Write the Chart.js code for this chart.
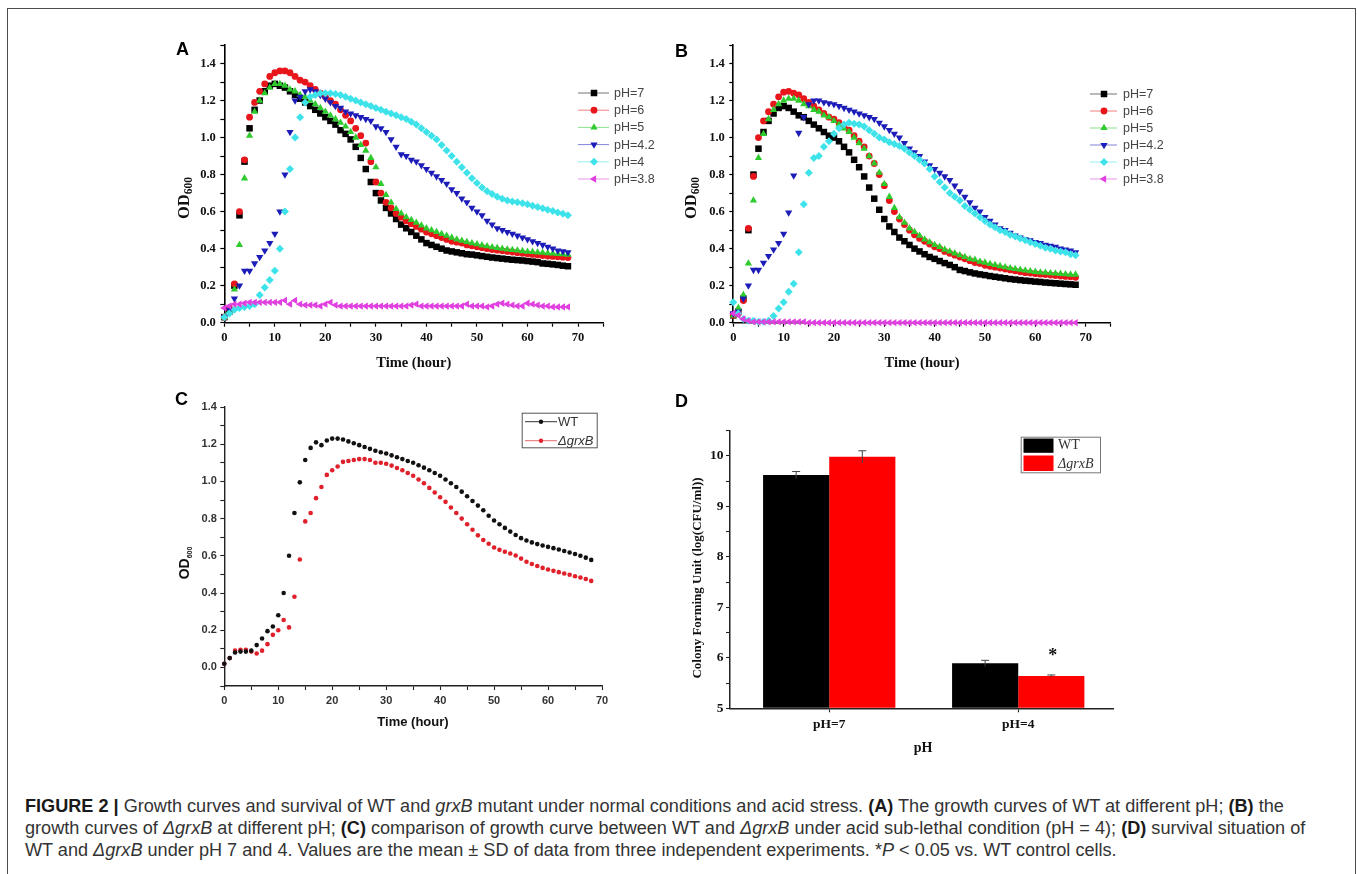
<!DOCTYPE html>
<html><head><meta charset="utf-8">
<script src="https://cdn.jsdelivr.net/npm/chart.js@4.4.1/dist/chart.umd.min.js"></script>
<style>
html,body{margin:0;padding:0;background:#fff;width:1357px;height:874px;overflow:hidden;position:relative}
canvas{position:absolute}
.frame{position:absolute;left:7px;top:8px;width:1347px;height:900px;border:1px solid #4d4d4d;border-bottom:none}
.lbl{position:absolute;font:bold 18px "Liberation Sans",Arial,sans-serif;color:#000;line-height:1}
.cap{position:absolute;left:25px;white-space:nowrap;font-family:"Liberation Sans",Arial,sans-serif;color:#333;line-height:1}
.cap b{color:#1a1a1a}
</style></head><body>
<div class="frame"></div>
<canvas id="cA"></canvas><canvas id="cB"></canvas><canvas id="cC"></canvas><canvas id="cD"></canvas>
<div class="lbl" style="left:176px;top:40px">A</div>
<div class="lbl" style="left:675px;top:42px">B</div>
<div class="lbl" style="left:175px;top:390px">C</div>
<div class="lbl" style="left:675px;top:392px">D</div>
<div class="cap" id="cap1"><b>FIGURE 2 |</b> Growth curves and survival of WT and <i>grxB</i> mutant under normal conditions and acid stress. <b>(A)</b> The growth curves of WT at different pH; <b>(B)</b> the</div>
<div class="cap" id="cap2">growth curves of <i>ΔgrxB</i> at different pH; <b>(C)</b> comparison of growth curve between WT and <i>ΔgrxB</i> under acid sub-lethal condition (pH = 4); <b>(D)</b> survival situation of</div>
<div class="cap" id="cap3">WT and <i>ΔgrxB</i> under pH 7 and 4. Values are the mean ± SD of data from three independent experiments. *<i>P</i> &lt; 0.05 vs. WT control cells.</div>
<script>
// ---------------- DATA ----------------
const hours = [0,1,2,3,4,5,6,7,8,9,10,11,12,13,14,15,16,17,18,19,20,21,22,23,24,25,26,27,28,29,30,31,32,33,34,35,36,37,38,39,40,41,42,43,44,45,46,47,48,49,50,51,52,53,54,55,56,57,58,59,60,61,62,63,64,65,66,67,68];
const phLabels = ['pH=7','pH=6','pH=5','pH=4.2','pH=4','pH=3.8'];

// Panel A: WT at different pH (OD600)
const A_pH7 = [0.03,0.06,0.2,0.58,0.87,1.05,1.15,1.2,1.25,1.28,
1.29,1.28,1.27,1.25,1.23,1.21,1.19,1.17,1.15,1.13,
1.11,1.09,1.07,1.04,1.02,0.99,0.95,0.89,0.83,0.76,
0.7,0.66,0.62,0.59,0.56,0.53,0.51,0.49,0.47,0.45,
0.43,0.42,0.41,0.4,0.39,0.385,0.38,0.375,0.37,0.368,
0.364,0.36,0.356,0.352,0.349,0.346,0.343,0.34,0.338,0.336,
0.333,0.33,0.327,0.32,0.318,0.315,0.312,0.308,0.305];
const A_pH6 = [0.03,0.08,0.21,0.6,0.88,1.11,1.19,1.25,1.29,1.33,
1.35,1.36,1.36,1.35,1.33,1.31,1.3,1.28,1.26,1.24,
1.22,1.2,1.18,1.15,1.12,1.09,1.05,1.01,0.97,0.87,
0.76,0.7,0.65,0.62,0.59,0.57,0.55,0.535,0.52,0.505,
0.49,0.48,0.47,0.46,0.45,0.44,0.435,0.43,0.42,0.415,
0.41,0.405,0.4,0.395,0.392,0.388,0.385,0.382,0.378,0.375,
0.372,0.369,0.366,0.363,0.36,0.358,0.356,0.354,0.352];
const A_pH5 = [0.03,0.06,0.18,0.42,0.78,1.01,1.14,1.2,1.24,1.27,
1.29,1.29,1.28,1.26,1.25,1.23,1.22,1.2,1.18,1.16,
1.14,1.12,1.1,1.08,1.06,1.03,1.0,0.96,0.93,0.89,
0.84,0.75,0.69,0.65,0.615,0.59,0.57,0.555,0.54,0.525,
0.51,0.5,0.49,0.48,0.47,0.46,0.45,0.443,0.436,0.43,
0.424,0.418,0.413,0.408,0.404,0.4,0.396,0.393,0.39,0.387,
0.384,0.382,0.38,0.378,0.376,0.374,0.372,0.37,0.368];
const A_pH42 = [0.03,0.07,0.13,0.2,0.28,0.28,0.32,0.355,0.39,0.43,
0.48,0.6,0.8,1.03,1.2,1.22,1.25,1.26,1.25,1.23,
1.21,1.19,1.17,1.16,1.14,1.13,1.12,1.11,1.1,1.09,
1.06,1.05,1.03,0.99,0.95,0.91,0.9,0.88,0.87,0.85,
0.83,0.81,0.79,0.77,0.75,0.72,0.7,0.67,0.65,0.62,
0.6,0.58,0.55,0.53,0.51,0.5,0.49,0.48,0.47,0.46,
0.45,0.44,0.43,0.42,0.41,0.4,0.39,0.385,0.38];
const A_pH4 = [0.03,0.05,0.07,0.08,0.085,0.09,0.1,0.15,0.19,0.23,
0.28,0.4,0.6,0.83,1.0,1.11,1.19,1.22,1.23,1.24,
1.24,1.24,1.235,1.23,1.22,1.21,1.2,1.19,1.18,1.17,
1.16,1.15,1.14,1.13,1.12,1.11,1.1,1.085,1.07,1.05,
1.03,1.01,0.99,0.96,0.93,0.9,0.87,0.84,0.81,0.78,
0.755,0.73,0.71,0.695,0.68,0.67,0.66,0.655,0.65,0.645,
0.64,0.632,0.625,0.618,0.61,0.603,0.595,0.588,0.58];
const A_pH38 = [0.08,0.09,0.1,0.1,0.105,0.11,0.11,0.11,0.11,0.11,
0.11,0.11,0.12,0.1,0.12,0.1,0.095,0.095,0.095,0.09,
0.1,0.11,0.095,0.09,0.09,0.09,0.09,0.09,0.09,0.09,
0.09,0.09,0.09,0.09,0.09,0.09,0.09,0.095,0.1,0.09,
0.09,0.09,0.09,0.09,0.09,0.09,0.09,0.09,0.1,0.09,
0.09,0.09,0.085,0.09,0.1,0.105,0.1,0.095,0.09,0.09,
0.105,0.1,0.095,0.09,0.09,0.085,0.085,0.085,0.085];

// Panel B: ΔgrxB at different pH (OD600)
const B_pH7 = [0.04,0.06,0.13,0.5,0.8,0.94,1.03,1.09,1.13,1.16,
1.17,1.16,1.14,1.12,1.11,1.09,1.07,1.05,1.03,1.01,
1.0,0.98,0.95,0.92,0.88,0.84,0.79,0.73,0.67,0.61,
0.56,0.52,0.49,0.46,0.44,0.42,0.4,0.385,0.37,0.355,
0.345,0.333,0.322,0.312,0.3,0.285,0.279,0.272,0.266,0.261,
0.257,0.252,0.248,0.244,0.24,0.236,0.233,0.23,0.227,0.225,
0.222,0.22,0.217,0.215,0.213,0.211,0.209,0.207,0.205];
const B_pH6 = [0.04,0.05,0.12,0.51,0.79,1.0,1.09,1.14,1.18,1.22,
1.245,1.25,1.24,1.23,1.21,1.19,1.17,1.15,1.13,1.11,
1.1,1.08,1.06,1.04,1.01,0.98,0.95,0.9,0.86,0.8,
0.74,0.66,0.6,0.56,0.53,0.5,0.475,0.455,0.44,0.425,
0.41,0.4,0.385,0.375,0.365,0.355,0.345,0.335,0.325,0.32,
0.31,0.305,0.3,0.295,0.29,0.285,0.28,0.275,0.27,0.268,
0.265,0.262,0.26,0.257,0.255,0.252,0.25,0.248,0.245];
const B_pH5 = [0.04,0.08,0.15,0.32,0.66,0.89,1.02,1.1,1.15,1.18,
1.2,1.21,1.21,1.2,1.18,1.17,1.15,1.14,1.12,1.11,
1.09,1.07,1.05,1.03,1.0,0.97,0.94,0.9,0.86,0.81,
0.75,0.68,0.62,0.57,0.54,0.51,0.49,0.47,0.45,0.435,
0.42,0.41,0.395,0.385,0.375,0.365,0.355,0.345,0.34,0.33,
0.325,0.318,0.312,0.306,0.3,0.295,0.29,0.286,0.282,0.278,
0.275,0.272,0.27,0.268,0.266,0.264,0.262,0.26,0.26];
const B_pH42 = [0.05,0.06,0.13,0.2,0.285,0.285,0.323,0.36,0.395,0.43,
0.48,0.595,0.795,1.025,1.11,1.18,1.2,1.2,1.19,1.185,
1.18,1.17,1.16,1.15,1.14,1.13,1.12,1.11,1.1,1.08,
1.06,1.04,1.02,1.0,0.97,0.94,0.92,0.9,0.87,0.85,
0.83,0.81,0.79,0.77,0.74,0.71,0.68,0.65,0.62,0.6,
0.57,0.55,0.53,0.51,0.5,0.485,0.47,0.46,0.45,0.445,
0.436,0.43,0.42,0.415,0.41,0.4,0.395,0.39,0.38];
const B_pH4 = [0.11,0.05,0.02,0.01,0.01,0.005,0.005,0.01,0.036,0.077,
0.11,0.167,0.21,0.38,0.64,0.81,0.89,0.9,0.95,0.98,
1.02,1.05,1.07,1.08,1.075,1.07,1.06,1.04,1.02,1.0,
0.99,0.975,0.965,0.955,0.94,0.92,0.9,0.88,0.86,0.83,
0.79,0.76,0.73,0.7,0.68,0.66,0.63,0.61,0.59,0.57,
0.55,0.53,0.515,0.5,0.49,0.475,0.465,0.455,0.445,0.435,
0.425,0.415,0.405,0.4,0.39,0.385,0.38,0.37,0.365];
const B_pH38 = [0.05,0.04,0.02,0.01,0.005,0.005,0.005,0.005,0.005,0.005,
0.005,0.005,0.005,0.005,0.005,0,0,0,0,0,
0,0,0,0,0,0,0,0,0,0,
0,0,0,0,0,0,0,0,0,0,
0,0,0,0,0,0,0,0,0,0,
0,0,0,0,0,0,0,0,0,0,
0,0,0,0,0,0,0,0,0];

// Panel C: WT vs ΔgrxB at pH 4 (OD600)
const C_WT = [0.02,0.05,0.08,0.085,0.085,0.09,0.12,0.155,0.195,0.22,
0.28,0.4,0.6,0.83,0.995,1.115,1.18,1.21,1.195,1.22,
1.23,1.23,1.225,1.215,1.205,1.195,1.185,1.175,1.165,1.157,
1.15,1.14,1.13,1.12,1.11,1.1,1.087,1.074,1.06,1.045,
1.03,1.01,0.99,0.97,0.945,0.92,0.895,0.87,0.845,0.815,
0.79,0.77,0.75,0.73,0.712,0.695,0.682,0.672,0.663,0.655,
0.648,0.641,0.634,0.626,0.618,0.61,0.6,0.59,0.578];
const C_grxB = [0.02,0.05,0.09,0.095,0.095,0.085,0.075,0.09,0.125,0.175,
0.2,0.255,0.215,0.38,0.58,0.785,0.83,0.91,0.97,1.035,
1.06,1.08,1.105,1.11,1.115,1.12,1.12,1.115,1.1,1.1,
1.095,1.085,1.072,1.06,1.045,1.03,1.01,0.99,0.965,0.94,
0.915,0.89,0.86,0.83,0.8,0.77,0.74,0.71,0.685,0.665,
0.645,0.632,0.622,0.612,0.602,0.585,0.568,0.556,0.545,0.535,
0.526,0.519,0.512,0.505,0.498,0.49,0.483,0.475,0.465];

// Panel D: survival (log CFU/ml)
const D_categories = ['pH=7','pH=4'];
const D_WT = [9.62, 5.89];
const D_WT_sd = [0.07, 0.06];
const D_grxB = [9.98, 5.64];
const D_grxB_sd = [0.12, 0.02];

// ---------------- STYLE ----------------
const SERIF = '"Liberation Serif","Times New Roman",serif';
const SANS = '"Liberation Sans",Arial,sans-serif';
const phColors = ['#000000','#e8151b','#2ecb2e','#1c1cb8','#3ee3ea','#e040e0'];
const phMarkers = [['rect',0,4.6],['circle',0,3.4],['triangle',0,4.2],['triangle',180,4.2],['rectRot',0,4.0],['triangle',270,4.2]];
Chart.defaults.font.family = SERIF;

function pts(ys){ return hours.map((h,i)=>({x:h,y:ys[i]})); }

function marker(ctx, style, rot, r, x, y){
  ctx.beginPath();
  const rad = rot*Math.PI/180;
  if(style==='circle'){ ctx.arc(x,y,r,0,Math.PI*2); }
  else if(style==='rect'){ const s=Math.SQRT1_2*r; ctx.rect(x-s,y-s,2*s,2*s); }
  else if(style==='rectRot'){ ctx.moveTo(x-r,y); ctx.lineTo(x,y-r); ctx.lineTo(x+r,y); ctx.lineTo(x,y+r); ctx.closePath(); }
  else { let a=rad; ctx.moveTo(x+Math.sin(a)*r,y-Math.cos(a)*r); a+=2*Math.PI/3; ctx.lineTo(x+Math.sin(a)*r,y-Math.cos(a)*r); a+=2*Math.PI/3; ctx.lineTo(x+Math.sin(a)*r,y-Math.cos(a)*r); ctx.closePath(); }
  ctx.fill();
}

function rotTitle(ctx, cx, cy, main, sub, font, subFont, subDy){
  ctx.save(); ctx.translate(cx, cy); ctx.rotate(-Math.PI/2);
  ctx.font = font; const w1 = ctx.measureText(main).width;
  let w2 = 0; if(sub){ ctx.font = subFont; w2 = ctx.measureText(sub).width; }
  const x0 = -(w1+w2)/2;
  ctx.textAlign='left'; ctx.textBaseline='alphabetic'; ctx.fillStyle='#111';
  ctx.font = font; ctx.fillText(main, x0, 0);
  if(sub){ ctx.font = subFont; ctx.fillText(sub, x0+w1, subDy); }
  ctx.restore();
}

function setCanvas(id,L,T,W,H){ const c=document.getElementById(id); c.width=W; c.height=H; c.style.left=L+'px'; c.style.top=T+'px'; c.style.width=W+'px'; c.style.height=H+'px'; return c; }

function growth(id, L, T, W, H, area, series, leg, tit){
  const c = setCanvas(id,L,T,W,H);
  const n = series.length;
  const datasets = series.map((ys,i)=>({
    label: phLabels[i], data: pts(ys),
    pointStyle: phMarkers[i][0], pointRotation: phMarkers[i][1], pointRadius: phMarkers[i][2],
    pointBackgroundColor: phColors[i], pointBorderWidth: 0, pointHoverRadius: phMarkers[i][2],
    showLine:false, clip:false, order: n-i
  }));
  const tickFont = {family:SERIF, weight:'bold', size:12.5};
  new Chart(c, {
    type:'scatter', data:{datasets},
    options:{
      responsive:false, animation:false, events:[],
      layout:{padding:{left:0, top:area.top-T, right:L+W-area.right, bottom:0}},
      plugins:{legend:{display:false}, tooltip:{enabled:false}},
      scales:{
        x:{type:'linear', min:0, max:75,
          ticks:{stepSize:5, autoSkip:false, maxRotation:0, padding:4, color:'#111', font:tickFont,
            callback:v=> (Math.round(v)%10===0 && v<=70) ? String(Math.round(v)) : ''},
          grid:{display:true, drawOnChartArea:false, drawTicks:true, tickLength:4, color:'#000', tickWidth:1.2},
          border:{display:true, color:'#000', width:1.6},
          afterFit:s=>{ s.height = T+H-area.bottom; }},
        y:{type:'linear', min:0, max:1.5,
          ticks:{stepSize:0.1, autoSkip:false, padding:4.5, color:'#111', font:tickFont,
            callback:v=>{const k=Math.round(v*10); return (k%2===0 && k<=14) ? (k/10).toFixed(1) : '';}},
          grid:{display:true, drawOnChartArea:false, drawTicks:true, tickLength:4, color:'#000', tickWidth:1.2},
          border:{display:true, color:'#000', width:1.6},
          afterFit:s=>{ s.width = area.left-L; }}
      }
    },
    plugins:[{id:'deco'+id, afterDraw(chart){
      const ctx=chart.ctx; ctx.save();
      // legend
      ctx.font='12.5px '+SANS; ctx.textBaseline='middle'; ctx.textAlign='left';
      phLabels.forEach((lab,i)=>{
        const y=leg.y0+i*leg.dy-T;
        ctx.strokeStyle=phColors[i]; ctx.globalAlpha=0.55; ctx.lineWidth=1;
        ctx.beginPath(); ctx.moveTo(leg.x0-L,y); ctx.lineTo(leg.x1-L,y); ctx.stroke(); ctx.globalAlpha=1;
        ctx.fillStyle=phColors[i]; marker(ctx, phMarkers[i][0], phMarkers[i][1], phMarkers[i][2], leg.xm-L, y);
        ctx.fillStyle='#444'; ctx.fillText(lab, leg.xt-L, y+0.5);
      });
      // axis titles
      ctx.fillStyle='#111'; ctx.font='bold 14.5px '+SERIF; ctx.textAlign='center'; ctx.textBaseline='middle';
      ctx.fillText('Time (hour)', tit.xc-L, tit.xy-T);
      rotTitle(ctx, tit.yx-L, tit.yc-T, 'OD', '600', 'bold 16.5px '+SERIF, 'bold 11.5px '+SERIF, 3);
      ctx.restore();
    }}]
  });
}

growth('cA', 150, 30, 510, 350, {left:224.3, top:45, right:603.3, bottom:322.7},
  [A_pH7,A_pH6,A_pH5,A_pH42,A_pH4,A_pH38],
  {x0:578, x1:609, xm:594, xt:614, y0:93, dy:17.2},
  {xc:413.8, xy:363.3, yx:189, yc:198});
growth('cB', 660, 30, 510, 350, {left:733.3, top:45, right:1110.8, bottom:322.7},
  [B_pH7,B_pH6,B_pH5,B_pH42,B_pH4,B_pH38],
  {x0:1090, x1:1117, xm:1104, xt:1123, y0:94, dy:17},
  {xc:922, xy:363.3, yx:696, yc:198});

// Panel C
(function(){
  const L=150,T=395,W=480,H=355; const area={left:224.3, top:407, right:602, bottom:686};
  const c=setCanvas('cC',L,T,W,H);
  const tickFont={family:SANS, weight:'bold', size:11};
  const gridCfg={display:true, drawOnChartArea:false, drawTicks:true, tickLength:4, color:'#222', tickWidth:1.1};
  new Chart(c,{
    type:'scatter',
    data:{datasets:[
      {label:'WT', data:pts(C_WT), pointRadius:2.3, pointBackgroundColor:'#111', pointBorderWidth:0, showLine:false, clip:false},
      {label:'ΔgrxB', data:pts(C_grxB), pointRadius:2.3, pointBackgroundColor:'#e0202a', pointBorderWidth:0, showLine:false, clip:false}
    ]},
    options:{
      responsive:false, animation:false, events:[],
      layout:{padding:{left:0, top:area.top-T, right:L+W-area.right, bottom:0}},
      plugins:{legend:{display:false}, tooltip:{enabled:false}},
      scales:{
        x:{type:'linear', min:0, max:70,
          ticks:{stepSize:5, autoSkip:false, maxRotation:0, padding:4, color:'#333', font:tickFont,
            callback:v=> (Math.round(v)%10===0) ? String(Math.round(v)) : ''},
          grid:gridCfg, border:{display:true, color:'#222', width:1.4},
          afterFit:s=>{ s.height=T+H-area.bottom; }},
        y:{type:'linear', min:-0.1, max:1.4,
          ticks:{stepSize:0.1, autoSkip:false, padding:3.5, color:'#333', font:tickFont,
            callback:v=>{const k=Math.round(v*10); return (k%2===0 && k>=0) ? (k/10).toFixed(1) : '';}},
          grid:gridCfg, border:{display:true, color:'#222', width:1.4},
          afterFit:s=>{ s.width=area.left-L; }}
      }
    },
    plugins:[{id:'decoC', afterDraw(chart){
      const ctx=chart.ctx; ctx.save();
      // legend box
      ctx.strokeStyle='#555'; ctx.lineWidth=1; ctx.strokeRect(521.7-L+0.5, 412.7-T+0.5, 75, 34.6);
      const rows=[{y:421.7,c:'#111',lc:'#333',t:'WT',it:false},{y:440.7,c:'#e0202a',lc:'#e86a6a',t:'ΔgrxB',it:true}];
      rows.forEach(r=>{
        ctx.strokeStyle=r.lc; ctx.beginPath(); ctx.moveTo(525-L,r.y-T); ctx.lineTo(557-L,r.y-T); ctx.stroke();
        ctx.fillStyle=r.c; ctx.beginPath(); ctx.arc(541-L,r.y-T,2.2,0,Math.PI*2); ctx.fill();
        ctx.fillStyle='#333'; ctx.font=(r.it?'italic ':'')+'13px '+SANS; ctx.textAlign='left'; ctx.textBaseline='middle';
        ctx.fillText(r.t, 558-L, r.y-T+0.5);
      });
      ctx.fillStyle='#111'; ctx.font='bold 13px '+SANS; ctx.textAlign='center'; ctx.textBaseline='middle';
      ctx.fillText('Time (hour)', 413-L, 722.3-T);
      rotTitle(ctx, 189-L, 563-T, 'OD', '600', 'bold 14px '+SANS, 'bold 7px '+SANS, 3);
      ctx.restore();
    }}]
  });
})();

// Panel D
(function(){
  const L=650,T=420,W=490,H=345; const area={left:730, top:429.3, right:1113.3, bottom:708.3};
  const c=setCanvas('cD',L,T,W,H);
  const tickFont={family:SERIF, weight:'bold', size:13.5};
  const gridCfg={display:true, drawOnChartArea:false, drawTicks:true, tickLength:4, color:'#222', tickWidth:1.1, offset:false};
  const sds=[D_WT_sd, D_grxB_sd];
  new Chart(c,{
    type:'bar',
    data:{datasets:[
      {label:'WT', data:D_WT.map((v,i)=>({x:i+1,y:v})), backgroundColor:'#000000', borderWidth:0, base:5, barPercentage:1.0, categoryPercentage:0.7},
      {label:'ΔgrxB', data:D_grxB.map((v,i)=>({x:i+1,y:v})), backgroundColor:'#ff0000', borderWidth:0, base:5, barPercentage:1.0, categoryPercentage:0.7}
    ]},
    options:{
      responsive:false, animation:false, events:[],
      layout:{padding:{left:0, top:area.top-T, right:L+W-area.right, bottom:0}},
      plugins:{legend:{display:false}, tooltip:{enabled:false}},
      scales:{
        x:{type:'linear', min:0.475, max:2.503, offset:false,
          afterBuildTicks:s=>{ s.ticks = D_categories.map((_,i)=>({value:i+1})); },
          ticks:{autoSkip:false, maxRotation:0, padding:4, color:'#111', font:tickFont,
            callback:v=> D_categories[Math.round(v)-1] || ''},
          grid:gridCfg, border:{display:true, color:'#222', width:1.5},
          afterFit:s=>{ s.height=T+H-area.bottom; }},
        y:{type:'linear', min:5, max:10.5,
          ticks:{stepSize:0.5, autoSkip:false, padding:2.5, color:'#111', font:tickFont,
            callback:v=> (Math.abs(v-Math.round(v))<1e-6 && v<=10) ? String(Math.round(v)) : ''},
          grid:gridCfg, border:{display:true, color:'#222', width:1.5},
          afterFit:s=>{ s.width=area.left-L; }}
      }
    },
    plugins:[{id:'decoD', afterDatasetsDraw(chart){
      const ctx=chart.ctx; const ys=chart.scales.y; ctx.save();
      ctx.strokeStyle='#444'; ctx.lineWidth=1;
      chart.data.datasets.forEach((ds,di)=>{
        chart.getDatasetMeta(di).data.forEach((el,i)=>{
          const m=ds.data[i].y, sd=sds[di][i];
          const yt=ys.getPixelForValue(m+sd), yb=ys.getPixelForValue(m-sd);
          ctx.beginPath(); ctx.moveTo(el.x, yb); ctx.lineTo(el.x, yt);
          ctx.moveTo(el.x-4, yt); ctx.lineTo(el.x+4, yt); ctx.stroke();
        });
      });
      ctx.restore();
    }, afterDraw(chart){
      const ctx=chart.ctx; ctx.save();
      // significance
      ctx.fillStyle='#111'; ctx.font='bold 18px '+SERIF; ctx.textAlign='center'; ctx.textBaseline='alphabetic';
      ctx.fillText('*', 1052.7-L, 660.5-T);
      // legend
      ctx.strokeStyle='#777'; ctx.lineWidth=1; ctx.strokeRect(1020.7-L+0.5, 436.7-T+0.5, 79.3, 35.6);
      ctx.fillStyle='#000'; ctx.fillRect(1023.5-L, 438.5-T, 30, 14.3);
      ctx.fillStyle='#ff0000'; ctx.fillRect(1023.5-L, 455.5-T, 30, 15.5);
      ctx.fillStyle='#333'; ctx.textAlign='left'; ctx.textBaseline='middle';
      ctx.font='14px '+SERIF; ctx.fillText('WT', 1058-L, 445.5-T);
      ctx.font='italic 14px '+SERIF; ctx.fillText('ΔgrxB', 1058-L, 464-T);
      // titles
      ctx.fillStyle='#111'; ctx.font='bold 14px '+SERIF; ctx.textAlign='center';
      ctx.fillText('pH', 923-L, 748.3-T);
      rotTitle(ctx, 701-L, 578-T, 'Colony Forming Unit (log(CFU/ml))', '', 'bold 13px '+SERIF, '', 0);
      ctx.restore();
    }}]
  });
})();

// Caption layout
function layoutCaption(){
  const c1=document.getElementById('cap1');
  c1.style.fontSize='16px';
  const w=c1.getBoundingClientRect().width;
  const fs=16*1260/w;
  const base=[812,834,856];
  ['cap1','cap2','cap3'].forEach((id,i)=>{const el=document.getElementById(id); el.style.fontSize=fs+'px'; el.style.top=(base[i]-0.8465*fs)+'px';});
}
layoutCaption();
if(document.fonts && document.fonts.ready){ document.fonts.ready.then(layoutCaption); }
</script>
</body></html>
